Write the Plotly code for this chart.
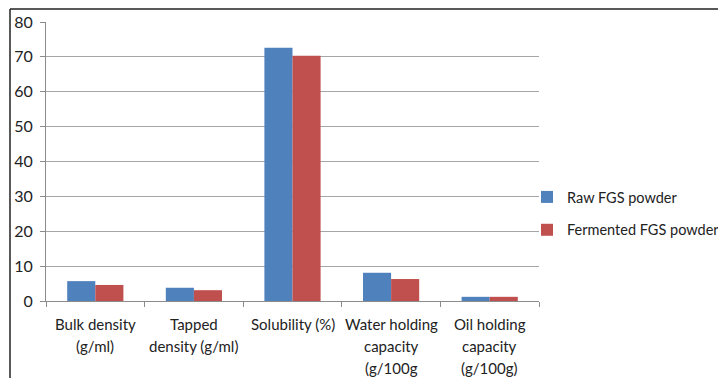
import plotly.graph_objects as go

categories = ["Bulk density", "Tapped density", "Solubility", "Water holding capacity", "Oil holding capacity"]
label_lines = [
    ["Bulk density", "(g/ml)"],
    ["Tapped", "density (g/ml)"],
    ["Solubility (%)"],
    ["Water holding", "capacity", "(g/100g"],
    ["Oil holding", "capacity", "(g/100g)"],
]
raw_values = [5.7, 3.8, 72.6, 8.1, 1.2]
fermented_values = [4.6, 3.1, 70.3, 6.3, 1.2]
y_ticks = [0, 10, 20, 30, 40, 50, 60, 70, 80]

FONT = "Lato, 'Open Sans', sans-serif"
OFF = 8  # page body margin in the browser
W, H = 726 - OFF, 378 - OFF
# target pixel positions in the window, converted to figure coordinates
L, R, T, B = 46 - OFF, 539 - OFF, 22 - OFF, 301 - OFF
PW, PH = R - L, B - T


def px_x(x):
    return (x - OFF - L) / PW


def px_y(y):
    return (B - (y - OFF)) / PH


fig = go.Figure()
fig.add_trace(go.Bar(x=categories, y=raw_values, name="Raw FGS powder",
                     marker=dict(color="#4F81BD", line=dict(width=0)), legendgroup="a"))
fig.add_trace(go.Bar(x=categories, y=fermented_values, name="Fermented FGS powder",
                     marker=dict(color="#C0504D", line=dict(width=0)), legendgroup="b"))
# invisible helper trace for boundary tick marks
fig.add_trace(go.Scatter(x=[-0.5, 4.5], y=[0, 0], xaxis="x2", mode="markers",
                         marker=dict(opacity=0), showlegend=False, hoverinfo="skip"))

n = len(categories)
fig.update_layout(
    width=W, height=H,
    paper_bgcolor="white", plot_bgcolor="white",
    margin=dict(l=L, r=W - R, t=T, b=H - B, autoexpand=False),
    barmode="group", bargap=0.43, bargroupgap=0,
    font=dict(family=FONT, size=15, color="#222"),
    xaxis=dict(type="category", range=[-0.5, n - 0.5], showticklabels=False,
               ticks="", showline=True, linecolor="#8c8c8c", linewidth=1, showgrid=False,
               zeroline=False),
    xaxis2=dict(type="linear", overlaying="x", anchor="y", side="bottom",
                range=[-0.5, n - 0.5], tickvals=[i - 0.5 for i in range(n + 1)],
                showticklabels=False, ticks="outside", ticklen=5, tickcolor="#8c8c8c",
                showgrid=False, zeroline=False, showline=False),
    yaxis=dict(range=[0, 80], tickvals=y_ticks, showgrid=True, gridcolor="#a6a6a6",
               gridwidth=1, showline=True, linecolor="#8c8c8c", linewidth=1,
               ticks="outside", ticklen=5, tickcolor="#8c8c8c", zeroline=False,
               tickfont=dict(size=16, color="#222"), ticklabelstandoff=4),
    legend=dict(x=px_x(527), y=px_y(181), xanchor="left", yanchor="top",
                font=dict(size=14.5, color="#222"), tracegroupgap=11,
                itemwidth=30, bgcolor="rgba(0,0,0,0)"),
    showlegend=True,
)

line_centers = [324, 346, 368]
for cat, lines in zip(categories, label_lines):
    for j, txt in enumerate(lines):
        fig.add_annotation(x=cat, xref="x", y=0, yref="y", text=txt, showarrow=False,
                           xanchor="center", yanchor="middle",
                           yshift=-(line_centers[j] - OFF - B),
                           font=dict(size=15, color="#222"))

# outer chart border (partially cropped in the original)
fig.add_shape(type="line", xref="paper", yref="paper",
              x0=px_x(10), x1=px_x(740), y0=px_y(9), y1=px_y(9),
              line=dict(color="#222", width=1.5))
fig.add_shape(type="line", xref="paper", yref="paper",
              x0=px_x(10), x1=px_x(10), y0=px_y(390), y1=px_y(9),
              line=dict(color="#222", width=1.5))

fig.write_html("out.html")
